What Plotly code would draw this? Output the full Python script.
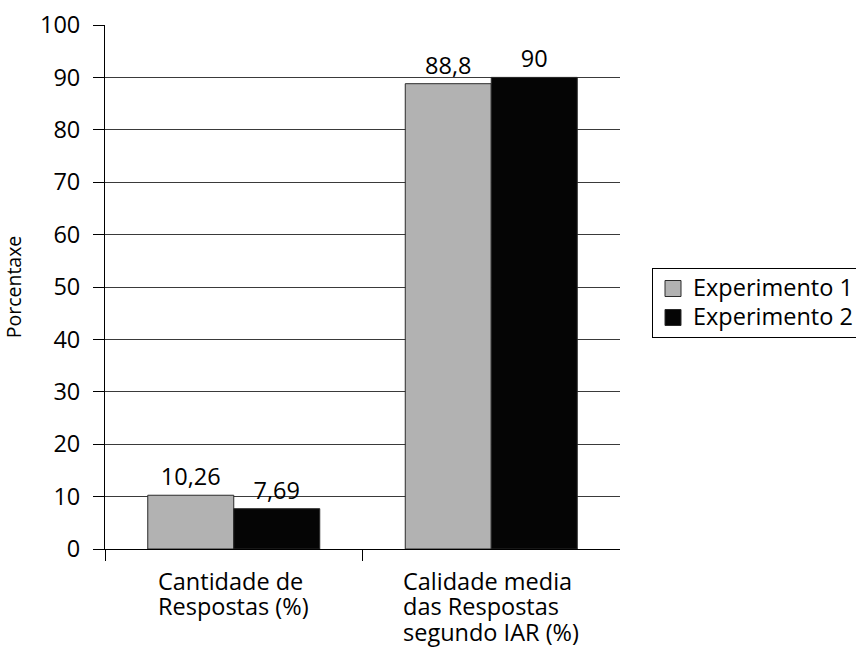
import plotly.graph_objects as go

# Data
categories = ["Cantidade de<br>Respostas (%)",
              "Calidade media<br>das Respostas<br>segundo IAR (%)"]
series_names = ["Experimento 1", "Experimento 2"]
exp1_values = [10.26, 88.8]
exp2_values = [7.69, 90]
y_ticks = list(range(0, 101, 10))

colors = ["#b2b2b2", "#050505"]
FONT = "Open Sans, Noto Sans, sans-serif"
FS = 23.5
x_pos = list(range(len(categories)))


def sized(text, size=FS):
    return f'<span style="font-size:{size}px">{text}</span>'


fig = go.Figure()
for name, vals, col in zip(series_names, [exp1_values, exp2_values], colors):
    fig.add_trace(go.Bar(
        x=x_pos, y=vals, name=name, showlegend=False,
        marker=dict(color=col, line=dict(color="#2a2a2a", width=1)),
        texttemplate="%{y}", textposition="outside",
        textfont=dict(size=FS, color="black", family=FONT),
        cliponaxis=False,
    ))
    # legend proxy with a larger square swatch
    fig.add_trace(go.Scatter(
        x=[None], y=[None], mode="markers", name=sized(name),
        marker=dict(symbol="square", size=20, color=col,
                    line=dict(color="#2a2a2a", width=1)),
    ))

# category labels: left-aligned lines centred under each group,
# with a tighter line pitch than the label size alone would give
for xi, cat in zip(x_pos, categories):
    txt = "<br>".join(sized(ln) for ln in cat.split("<br>"))
    fig.add_annotation(
        x=xi, y=0, xref="x", yref="paper", yanchor="top", xanchor="center",
        yshift=-14, text=txt, showarrow=False, align="left",
        font=dict(size=19.5, color="black", family=FONT),
    )

fig.update_layout(
    width=856, height=647,
    margin=dict(l=105, r=236, t=25, b=98),
    paper_bgcolor="white", plot_bgcolor="white",
    separators=",.",
    barmode="group", bargap=0.332, bargroupgap=0,
    font=dict(family=FONT, size=FS, color="black"),
    legend=dict(
        xref="container", yref="container",
        x=652 / 856, y=1 - 268 / 647, xanchor="left", yanchor="top",
        bordercolor="black", borderwidth=1, bgcolor="white",
        font=dict(size=20, family=FONT, color="black"),
        itemwidth=30, tracegroupgap=0,
    ),
    xaxis=dict(
        range=[-0.5, 1.5], tickmode="array", tickvals=[-0.5, 0.5],
        ticktext=["", ""], ticks="outside", ticklen=11, tickcolor="black",
        showline=True, linecolor="black", linewidth=1,
        showgrid=False, zeroline=False, fixedrange=True, automargin=False,
    ),
    yaxis=dict(
        range=[0, 100], tickmode="array", tickvals=y_ticks,
        ticks="outside", ticklen=11, tickcolor="black",
        showline=True, linecolor="black", linewidth=1,
        showgrid=True, gridcolor="#3a3a3a", gridwidth=1,
        zeroline=False, ticklabelstandoff=8, automargin=False,
        tickfont=dict(size=FS, family=FONT),
        title=dict(text="Porcentaxe", font=dict(size=19.5, family=FONT), standoff=18),
    ),
)

fig.write_html("out.html")
